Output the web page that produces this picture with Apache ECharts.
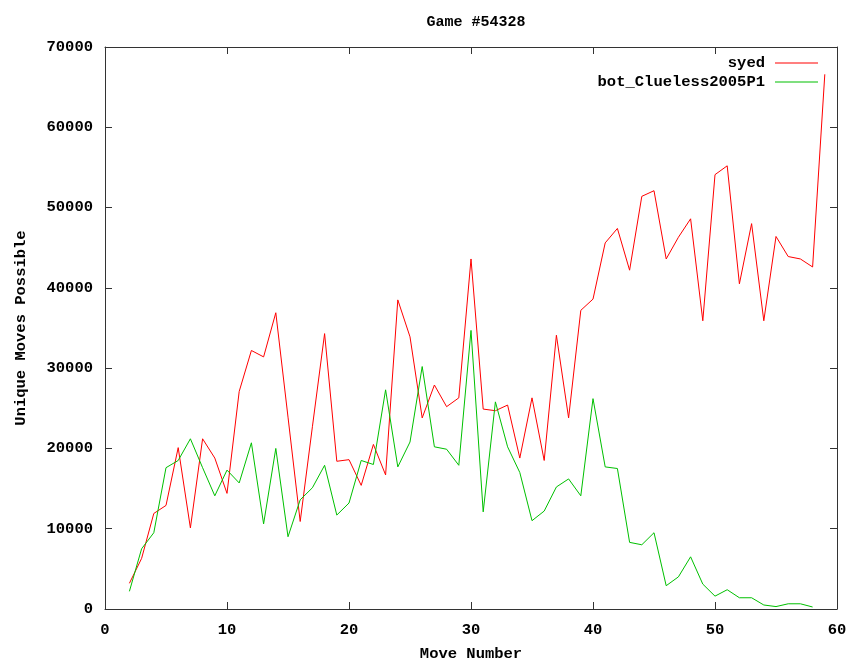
<!DOCTYPE html>
<html>
<head>
<meta charset="utf-8">
<script src="https://cdn.jsdelivr.net/npm/echarts@6/dist/echarts.min.js"></script>
<style>html,body{margin:0;padding:0;background:#fff}#c{width:855px;height:664px}</style>
</head>
<body>
<div id="c"></div>
<script>
var movesSyed = [2,3,4,5,6,7,8,9,10,11,12,13,14,15,16,17,18,19,20,21,22,23,24,25,26,27,28,29,30,31,32,33,34,35,36,37,38,39,40,41,42,43,44,45,46,47,48,49,50,51,52,53,54,55,56,57,58,59];
var syed = [3200,6300,11900,12900,20100,10100,21200,18800,14400,27100,32200,31400,36900,23900,10900,22700,34300,18400,18600,15400,20500,16700,38500,33900,23800,27900,25200,26300,43600,24900,24700,25400,18800,26300,18500,34100,23800,37200,38600,45600,47400,42200,51400,52100,43600,46300,48600,35900,54100,55200,40500,48000,35900,46400,43900,43600,42600,66600];
var movesBot = [2,3,4,5,6,7,8,9,10,11,12,13,14,15,16,17,18,19,20,21,22,23,24,25,26,27,28,29,30,31,32,33,34,35,36,37,38,39,40,41,42,43,44,45,46,47,48,49,50,51,52,53,54,55,56,57,58];
var bot = [2200,7500,9500,17600,18500,21200,17600,14100,17300,15700,20700,10600,20000,9000,13600,15100,17900,11700,13200,18500,18000,27300,17700,20800,30200,20200,19900,17900,34700,12100,25800,20200,17000,11000,12200,15200,16200,14100,26200,17700,17500,8300,8000,9500,2900,4000,6500,3100,1600,2400,1400,1400,500,300,650,650,250];
var xTicks = [0,10,20,30,40,50,60];
var yTicks = [0,10000,20000,30000,40000,50000,60000,70000];

var FONT = '"Liberation Mono", "DejaVu Sans Mono", monospace';
var axisColor = '#333';
function pairs(xs, ys){ return xs.map(function(x,i){ return [x, ys[i]]; }); }

var chart = echarts.init(document.getElementById('c'), null, {renderer:'canvas'});
function common(){
  return {
    axisLine:{show:true, onZero:false, lineStyle:{color:axisColor, width:1}},
    axisTick:{show:true, inside:true, length:7, lineStyle:{color:axisColor}},
    splitLine:{show:false}
  };
}
var labelStyle = {fontFamily:FONT, fontWeight:'bold', fontSize:15.5, color:'#000'};
chart.setOption({
  animation:false,
  backgroundColor:'#fff',
  title:{
    text:'Game #54328', left:471, top:10, textAlign:'center',
    textStyle:{fontFamily:FONT, fontWeight:'bold', fontSize:15, color:'#000'}
  },
  legend:{
    orient:'vertical', right:32, top:50, align:'right', itemGap:3,
    itemWidth:43, itemHeight:1, icon:'rect',
    textStyle:{fontFamily:FONT, fontWeight:'bold', fontSize:15.5, color:'#000', lineHeight:14, padding:[0,5,0,0]},
    data:['syed','bot_Clueless2005P1']
  },
  grid:{left:105, right:18, top:47, bottom:55, containLabel:false, outerBoundsMode:'none'},
  xAxis:[
    Object.assign({type:'value', min:xTicks[0], max:xTicks[xTicks.length-1], interval:10, position:'bottom',
      name:'Move Number', nameLocation:'middle', nameGap:37,
      nameTextStyle:labelStyle,
      axisLabel:Object.assign({margin:13}, labelStyle)}, common()),
    Object.assign({type:'value', min:xTicks[0], max:xTicks[xTicks.length-1], interval:10, position:'top',
      axisLabel:{show:false}}, common())
  ],
  yAxis:[
    Object.assign({type:'value', min:yTicks[0], max:yTicks[yTicks.length-1], interval:10000, position:'left',
      name:'Unique Moves Possible', nameLocation:'middle', nameGap:76, nameRotate:90,
      nameTextStyle:labelStyle,
      axisLabel:Object.assign({margin:12, formatter:function(v){return String(v);}}, labelStyle)}, common()),
    Object.assign({type:'value', min:yTicks[0], max:yTicks[yTicks.length-1], interval:10000, position:'right',
      axisLabel:{show:false}}, common())
  ],
  series:[
    {name:'syed', type:'line', data:pairs(movesSyed, syed), symbol:'none', showSymbol:false,
      lineStyle:{color:'#ff0000', width:1}, itemStyle:{color:'#ff0000'}},
    {name:'bot_Clueless2005P1', type:'line', data:pairs(movesBot, bot), symbol:'none', showSymbol:false,
      lineStyle:{color:'#00c000', width:1}, itemStyle:{color:'#00c000'}}
  ]
});
</script>
</body>
</html>
